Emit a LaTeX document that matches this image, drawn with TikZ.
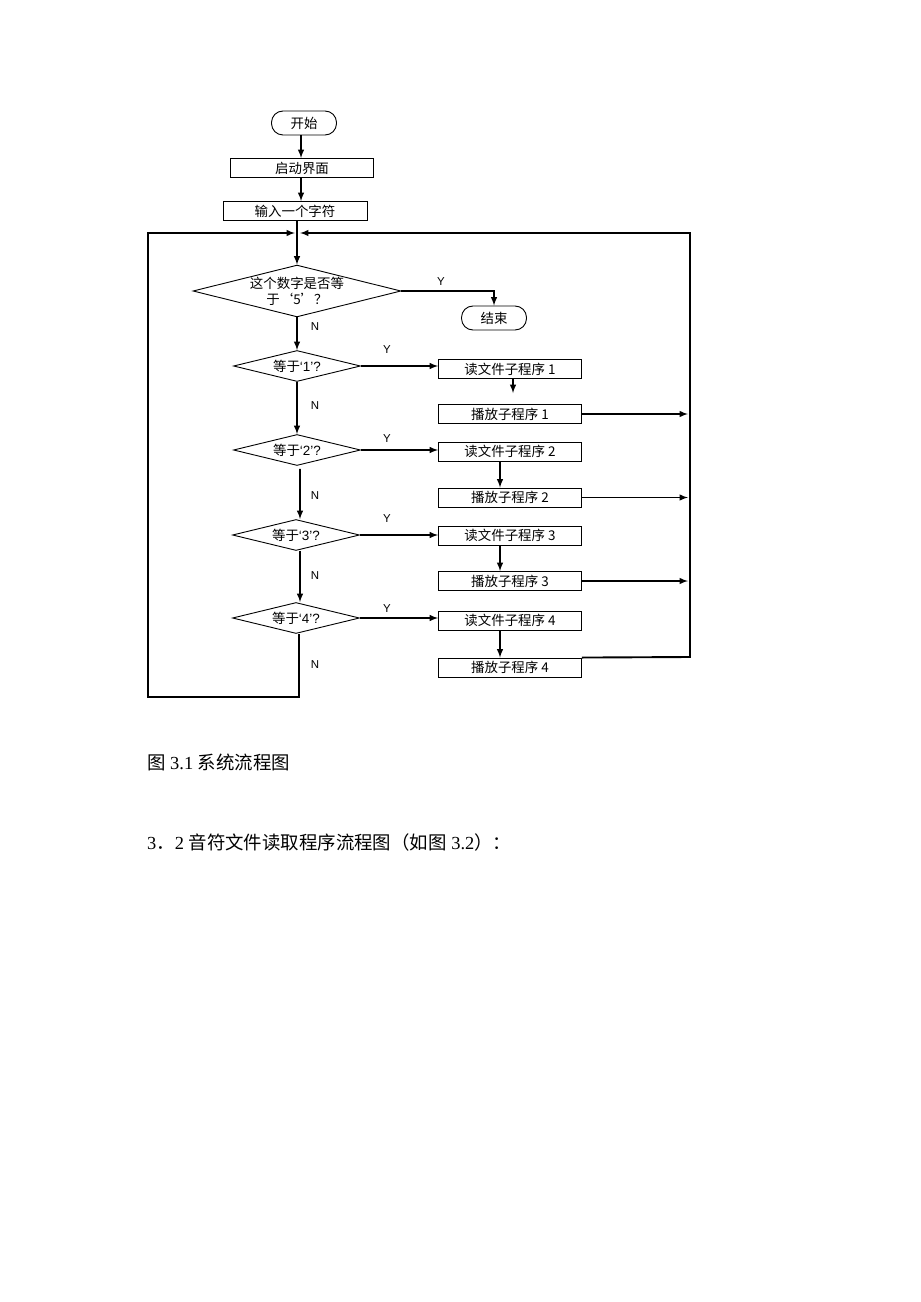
\documentclass[tikz,border=0pt]{standalone}
\usepackage{fontspec}
\setmainfont{Liberation Serif}
\newfontfamily\cjk{Noto Sans CJK SC}
\newfontfamily\lab{Liberation Sans}
\usetikzlibrary{shapes.geometric, arrows, positioning}

\begin{document}
\begin{tikzpicture}[x=1bp, y=-1bp,
        term/.style={draw, line width=0.9bp, rounded corners=11.5bp, minimum width=65bp, minimum height=24bp, inner sep=0pt, font=\cjk\fontsize{13.5}{14}\selectfont},
        box/.style={draw, line width=0.9bp, minimum width=143bp, minimum height=19bp, inner sep=0pt, font=\cjk\fontsize{13.5}{14}\selectfont},
        ask/.style={draw, diamond, aspect=4, line width=0.9bp, minimum width=127bp, minimum height=31bp, inner sep=0pt, align=center, font=\cjk\fontsize{13.5}{16}\selectfont},
        yn/.style={font=\lab\fontsize{11.5}{12}\selectfont},
        line/.style={line width=1.9bp, -latex}]
        \useasboundingbox (0,0) rectangle (920,1302);

        \node[term] (start) at (304,123) {开始};
        \node[box] (ui) at (302,168) {启动界面};
        \node[box, minimum width=144bp] (input) at (295,211) {输入一个字符};
        \coordinate (axis) at (297,233);
        \node[ask, minimum width=208bp, minimum height=51bp] (q5) at (297,291) {这个数字是否等\\于‘5’？};
        \node[term] (end) at (494,318) {结束};

        \node[ask] (q1) at (297,366) {等于{\lab‘1’?}};
        \node[box] (read1) at (510,369) {读文件子程序 1};
        \node[box] (play1) at (510,414) {播放子程序 1};
        \node[ask] (q2) at (297,450) {等于{\lab‘2’?}};
        \node[box] (read2) at (510,451.5) {读文件子程序 2};
        \node[box] (play2) at (510,497.5) {播放子程序 2};
        \node[ask] (q3) at (296,535) {等于{\lab‘3’?}};
        \node[box] (read3) at (510,535.5) {读文件子程序 3};
        \node[box] (play3) at (510,581) {播放子程序 3};
        \node[ask] (q4) at (296,618) {等于{\lab‘4’?}};
        \node[box] (read4) at (510,620.5) {读文件子程序 4};
        \node[box] (play4) at (510,667.5) {播放子程序 4};

        \coordinate (lowL) at (148,697);
        \coordinate (lowR) at (690,657);

        \draw[line] (start.south -| 301,0) -- (ui.north -| 301,0);
        \draw[line] (ui.south -| 301,0) -- (input.north -| 301,0);
        \draw[line] (input.south -| axis) -- (q5.north);
        \draw[line] (q5.east) -- (q5.east -| end.north) -- (end.north);
        \draw[line] (q5) -- (q1);
        \draw[line] (q1) -- (q2);
        \draw[line] ([xshift=3bp]q2.south) ++(0,3) -- ([xshift=4bp]q3.north);
        \draw[line] ([xshift=4bp]q3.south) -- ([xshift=4bp]q4.north);
        \draw[line] (q4.south) ++(3,0) |- (lowL) |- ([xshift=-2bp]axis);
        \draw[line] (play4.north east) -- (lowR) |- ([xshift=3bp]axis);

        % Y branches
        \foreach \i in {1,2,3,4}{
            \draw[line] (q\i.east) -- (q\i.east -| read\i.west);
        }
        \draw[line, shorten >=11bp] ([xshift=3bp]read1.south) -- ([xshift=3bp]play1.north);
        \foreach \i in {2,3,4}{
            \draw[line] ([xshift=-10bp]read\i.south) -- ([xshift=-10bp]play\i.north);
        }
        \foreach \i in {1,2,3}{
            \draw[line] (play\i.east) -- ([xshift=-2bp]play\i.east -| lowR);
        }

        \node[yn] (y5) at (441,282) {Y};
        \node[yn] (y1) at (387,350) {Y};
        \node[yn] (y2) at (387,439) {Y};
        \node[yn] (y3) at (387,519) {Y};
        \node[yn] (y4) at (387,609) {Y};
        \node[yn] (n5) at (315,327) {N};
        \node[yn] (n1) at (315,406) {N};
        \node[yn] (n2) at (315,496) {N};
        \node[yn] (n3) at (315,576) {N};
        \node[yn] (n4) at (315,665) {N};

        \node[anchor=west, inner sep=0pt, font=\fontsize{18.5}{19}\selectfont] (cap1) at (147,762) {{\cjk 图} 3.1 {\cjk 系统流程图}};
        \node[anchor=west, inner sep=0pt, font=\fontsize{18.5}{19}\selectfont] (cap2) at (147,842) {3{\cjk ．}2 {\cjk 音符文件读取程序流程图（如图} 3.2{\cjk ）：}};
\end{tikzpicture}
\end{document}
